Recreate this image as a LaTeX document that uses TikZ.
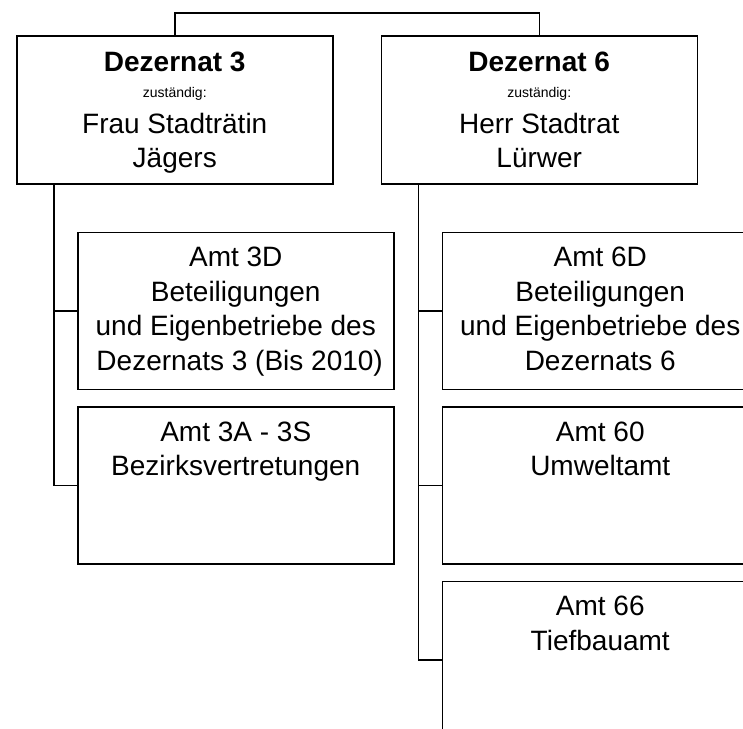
\documentclass[tikz,border=0pt]{standalone}
\usepackage{fontspec}
\setmainfont{Liberation Sans}
\usepackage{tikz}
\usetikzlibrary{positioning}
\tikzstyle{dezernat} = [rectangle, draw, line width=1.5pt, anchor=north west,
    inner sep=0pt, minimum width=316pt, minimum height=148pt]
\tikzstyle{amt} = [rectangle, draw, line width=1.5pt, anchor=north west,
    inner sep=0pt, minimum width=316pt, minimum height=157pt]
\tikzstyle{edge} = [draw, line width=1.5pt]
\newcommand{\boxtext}[3]{\begin{minipage}[c][#1][t]{316pt}\centering
  \fontsize{28}{34.5}\selectfont\vspace*{#2}#3\end{minipage}}

\begin{document}
\begin{tikzpicture}
  \useasboundingbox (0,0) rectangle (743pt,-728pt);
  \clip (0,0) rectangle (743pt,-728pt);
  % Place nodes
  \node [dezernat] (dez3) at (16pt,-35pt) {\boxtext{148pt}{16pt}{\textbf{Dezernat 3}\\[-8.5pt]
    {\fontsize{14}{16}\selectfont zuständig:}\\[1.5pt] Frau Stadträtin\\ Jägers}};
  \node [dezernat, right=47pt of dez3] (dez6) {\boxtext{148pt}{16pt}{\textbf{Dezernat 6}\\[-8.5pt]
    {\fontsize{14}{16}\selectfont zuständig:}\\[1.5pt] Herr Stadtrat\\ Lürwer}};
  \node [amt, below right=47pt and 61pt of dez3.south west] (amt3d) {\boxtext{157pt}{15pt}{Amt 3D\\
    Beteiligungen\\ und Eigenbetriebe des\\ \hspace*{0.28em}Dezernats 3 (Bis 2010)}};
  \node [amt, below=16pt of amt3d] (amt3a) {\boxtext{157pt}{15pt}{Amt 3A - 3S\\ Bezirksvertretungen}};
  \node [amt, below right=47pt and 61pt of dez6.south west] (amt6d) {\boxtext{157pt}{15pt}{Amt 6D\\
    Beteiligungen\\ und Eigenbetriebe des\\ Dezernats 6}};
  \node [amt, below=16pt of amt6d] (amt60) {\boxtext{157pt}{15pt}{Amt 60\\ Umweltamt}};
  \node [amt, below=16pt of amt60] (amt66) {\boxtext{157pt}{15pt}{Amt 66\\ Tiefbauamt}};
  % Draw edges
  \path [edge] (dez3.north) -- ++(0,22pt) -| (dez6.north);
  \path [edge] ([xshift=38pt]dez3.south west) |- (amt3d.west);
  \path [edge] ([xshift=38pt]dez3.south west) |- (amt3a.west);
  \path [edge] ([xshift=38pt]dez6.south west) |- (amt6d.west);
  \path [edge] ([xshift=38pt]dez6.south west) |- (amt60.west);
  \path [edge] ([xshift=38pt]dez6.south west) |- (amt66.west);
\end{tikzpicture}
\end{document}
